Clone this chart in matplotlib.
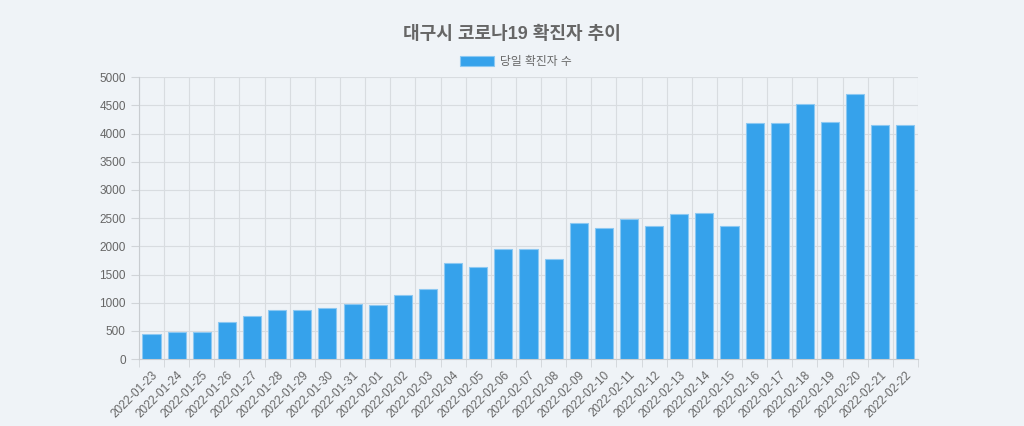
import numpy as np
import matplotlib.pyplot as plt

plt.rcParams['font.family'] = ['Liberation Sans', 'Noto Sans CJK KR', 'DejaVu Sans']

# daily confirmed cases, Daegu
dates = ['2022-01-23', '2022-01-24', '2022-01-25', '2022-01-26', '2022-01-27',
         '2022-01-28', '2022-01-29', '2022-01-30', '2022-01-31', '2022-02-01',
         '2022-02-02', '2022-02-03', '2022-02-04', '2022-02-05', '2022-02-06',
         '2022-02-07', '2022-02-08', '2022-02-09', '2022-02-10', '2022-02-11',
         '2022-02-12', '2022-02-13', '2022-02-14', '2022-02-15', '2022-02-16',
         '2022-02-17', '2022-02-18', '2022-02-19', '2022-02-20', '2022-02-21',
         '2022-02-22']
cases = [454, 478, 483, 666, 767, 867, 879, 908, 973, 961,
         1138, 1250, 1704, 1633, 1960, 1958, 1781, 2406, 2317, 2488,
         2364, 2565, 2594, 2353, 4180, 4192, 4528, 4210, 4693, 4151,
         4145]

bg = '#eff3f7'
txt = '#666666'
fig = plt.figure(figsize=(10.24, 4.26), dpi=100, facecolor=bg)
ax = fig.add_axes([0.1357, 0.157, 0.7608, 0.662], facecolor=bg)

x = np.arange(len(dates))
ax.bar(x, cases, width=0.72, color='#36a2eb', edgecolor='#8cc8f2', linewidth=0.8,
       label='당일 확진자 수', zorder=3)

ax.set_xlim(-0.5, len(dates) - 0.5)
ax.set_ylim(0, 5000)
ax.set_yticks(np.arange(0, 5001, 500))
ax.set_xticks(x)
ax.set_xticklabels(dates, rotation=45, ha='right', rotation_mode='anchor',
                   fontsize=8.5, color=txt)
ax.tick_params(axis='x', length=0, pad=7)
ax.tick_params(axis='y', labelsize=8.5, labelcolor=txt, length=6, color='#d0d4d8')

# gridlines between categories like chart.js
ax.set_xticks(np.arange(-0.5, len(dates)), minor=True)
ax.tick_params(axis='x', which='minor', length=6, color='#d0d4d8')
ax.grid(True, which='minor', axis='x', color='#d8dce0', linewidth=0.8, zorder=0)
ax.grid(True, which='major', axis='y', color='#d8dce0', linewidth=0.8, zorder=0)
for s in ['top', 'right']:
    ax.spines[s].set_visible(False)
for s in ['left', 'bottom']:
    ax.spines[s].set_color('#c8ccd0')

fig.text(0.5, 0.92, '대구시 코로나19 확진자 추이', ha='center', va='center',
         fontsize=13, fontweight='bold', color=txt)
leg = ax.legend(loc='lower center', bbox_to_anchor=(0.484, 0.993), frameon=False,
                fontsize=8.5, handlelength=2.9, handleheight=0.9, handletextpad=0.5)
for t in leg.get_texts():
    t.set_color(txt)

fig.savefig('out.png', dpi=100, facecolor=bg)
